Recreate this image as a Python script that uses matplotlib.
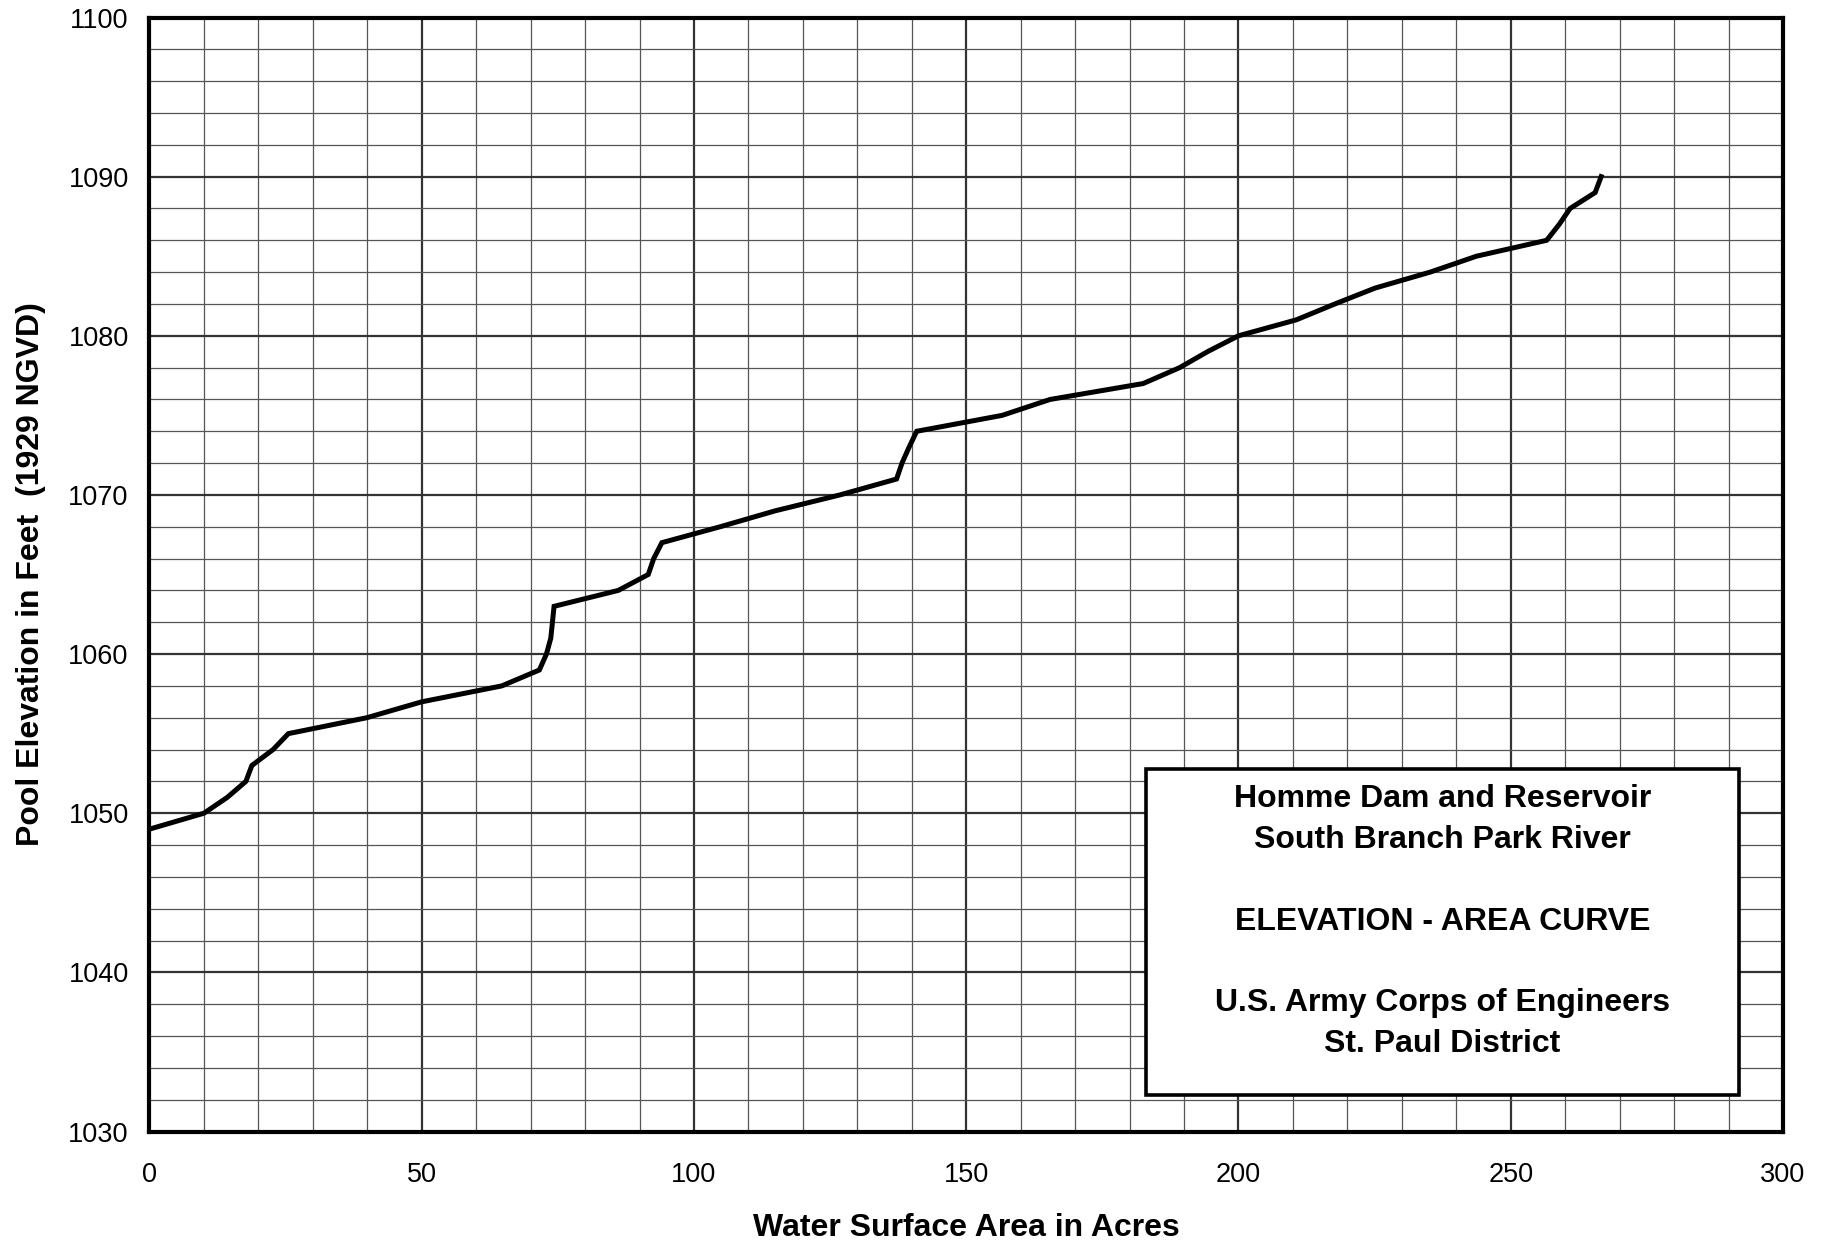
import numpy as np
import matplotlib.pyplot as plt
from matplotlib.ticker import MultipleLocator

plt.rcParams['font.family'] = ['Liberation Sans', 'DejaVu Sans']

# Elevation - area curve
area = [0, 10, 14.3, 17.7, 18.8, 22.7, 25.5, 39.9, 50.0, 64.7, 71.6, 72.9,
        73.7, 74.0, 74.3, 86.1, 91.6, 92.6, 94.1, 104.8, 114.9, 126.8, 137.2,
        138.2, 139.5, 140.9, 156.6, 165.4, 182.5, 189.2, 194.3, 200.0, 210.6,
        217.7, 225.1, 235.2, 243.7, 256.6, 258.9, 260.9, 265.5, 266.6]
elev = [1049, 1050, 1051, 1052, 1053, 1054, 1055, 1056, 1057, 1058, 1059, 1060,
        1061, 1062, 1063, 1064, 1065, 1066, 1067, 1068, 1069, 1070, 1071,
        1072, 1073, 1074, 1075, 1076, 1077, 1078, 1079, 1080, 1081,
        1082, 1083, 1084, 1085, 1086, 1087, 1088, 1089, 1090]

x_ticks = [0, 50, 100, 150, 200, 250, 300]
y_ticks = [1030, 1040, 1050, 1060, 1070, 1080, 1090, 1100]

box_lines = ["Homme Dam and Reservoir", "South Branch Park River", "",
             "ELEVATION - AREA CURVE", "",
             "U.S. Army Corps of Engineers", "St. Paul District"]

fig = plt.figure(figsize=(18.31, 12.45), dpi=100)
ax = fig.add_axes([149.5 / 1831, 1 - 1131.5 / 1245, 1633.5 / 1831, 1114 / 1245])

ax.plot(area, elev, color='black', linewidth=3.6, solid_joinstyle='miter', zorder=3)

ax.set_xlim(0, 300)
ax.set_ylim(1030, 1100)
ax.set_xticks(x_ticks)
ax.set_yticks(y_ticks)
ax.xaxis.set_minor_locator(MultipleLocator(10))
ax.yaxis.set_minor_locator(MultipleLocator(2))
ax.grid(which='major', color='#333333', linewidth=1.6)
ax.grid(which='minor', color='#555555', linewidth=0.9)
ax.set_axisbelow(True)
ax.tick_params(which='both', length=0, labelsize=19.5, colors='black')
ax.tick_params(axis='x', pad=22)
ax.tick_params(axis='y', pad=15)

for s in ax.spines.values():
    s.set_linewidth(3)
    s.set_color('black')

ax.set_xlabel('Water Surface Area in Acres', fontsize=23, fontweight='bold', labelpad=18)
ax.set_ylabel('Pool Elevation in Feet  (1929 NGVD)', fontsize=23, fontweight='bold', labelpad=16)

# title block
rect = plt.Rectangle((0.610, 0.0325), 0.363, 0.2925, transform=ax.transAxes,
                     facecolor='white', edgecolor='black', linewidth=2.6, zorder=4)
ax.add_patch(rect)
ax.text(0.7915, 0.1885, "\n".join(box_lines), transform=ax.transAxes,
        ha='center', va='center', fontsize=23, fontweight='bold', linespacing=1.47,
        zorder=5)

fig.savefig('out.png', dpi=100)
